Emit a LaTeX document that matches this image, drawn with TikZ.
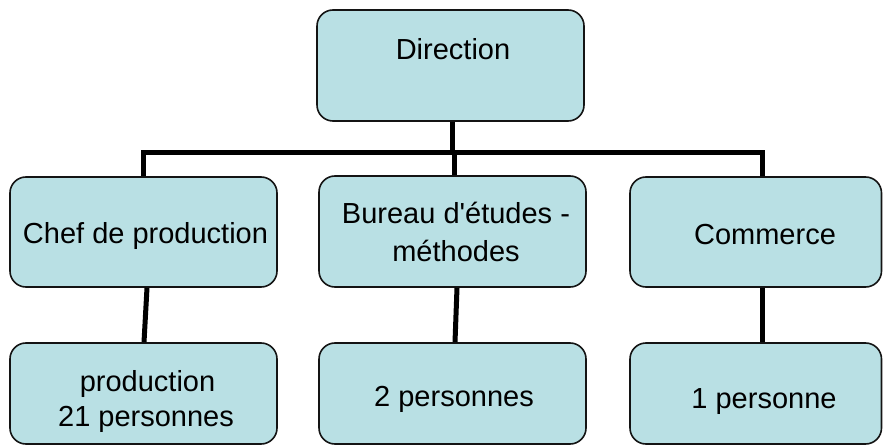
\documentclass[tikz,border=0pt]{standalone}
\usepackage{fontspec}
\setmainfont{Liberation Sans}[Ligatures=TeXOff]
\definecolor{boxfill}{RGB}{185,224,228}
\definecolor{boxline}{RGB}{20,20,20}
\begin{document}
\begin{tikzpicture}[x=1pt,y=-1pt,
  box/.style={draw=boxline, line width=1.6pt, fill=boxfill, rounded corners=16pt,
    minimum width=267pt, minimum height=110pt, inner sep=0pt},
  conn/.style={line width=5pt, black},
  lbl/.style={anchor=base, inner sep=0pt, font=\fontsize{29}{35}\selectfont}]
\useasboundingbox (0,0) rectangle (883,446);
\clip (0,0) rectangle (883,446);
% boxes
\node[box, minimum height=111pt] (dir) at (450.5,65.5) {};
\node[box] (chef) at (143.5,232) {};
\node[box, minimum height=111pt] (bur) at (452.5,231.5) {};
\node[box, minimum width=251.5pt] (com) at (755.75,232) {};
\node[box, minimum height=101pt] (prod) at (143.5,393.5) {};
\node[box, minimum height=101pt] (p2) at (452.5,393.5) {};
\node[box, minimum height=101pt, minimum width=251.5pt] (p1) at (755.75,393.5) {};
% texts
\node[lbl] (tdir) at (453,60) {Direction};
\node[lbl] (tchef) at (145.5,244) {Chef de production};
\node[lbl] (tbur1) at (456,224) {Bureau d'études -};
\node[lbl] (tbur2) at (456,261.5) {méthodes};
\node[lbl] (tcom) at (765,245) {Commerce};
\node[lbl] (tprod1) at (147.5,391.5) {production};
\node[lbl] (tprod2) at (146,426.5) {21 personnes};
\node[lbl] (tp2) at (454,406.5) {2 personnes};
\node[lbl] (tp1) at (764,408) {1 personne};
% connector points
\coordinate (jd) at (452,153);
\coordinate (jb) at (454,153);
\coordinate (barL) at (143,153);
\coordinate (barR) at (762,153);
\coordinate (cA) at (147,300);
\coordinate (cB) at (144,300);
\coordinate (bA) at (457,300);
\coordinate (bB) at (455,300);
\coordinate (mA) at (762,300);
% connectors
\draw[conn] (dir.south -| jd) -- (jd);
\draw[conn] (chef.north -| barL) |- (barR) -- (com.north -| barR);
\draw[conn] (jb) -- (bur.north -| jb);
\draw[conn] (chef.south -| cA) -- (prod.north -| cB);
\draw[conn] (bur.south -| bA) -- (p2.north -| bB);
\draw[conn] (com.south -| mA) -- (p1.north -| mA);
\end{tikzpicture}
\end{document}
